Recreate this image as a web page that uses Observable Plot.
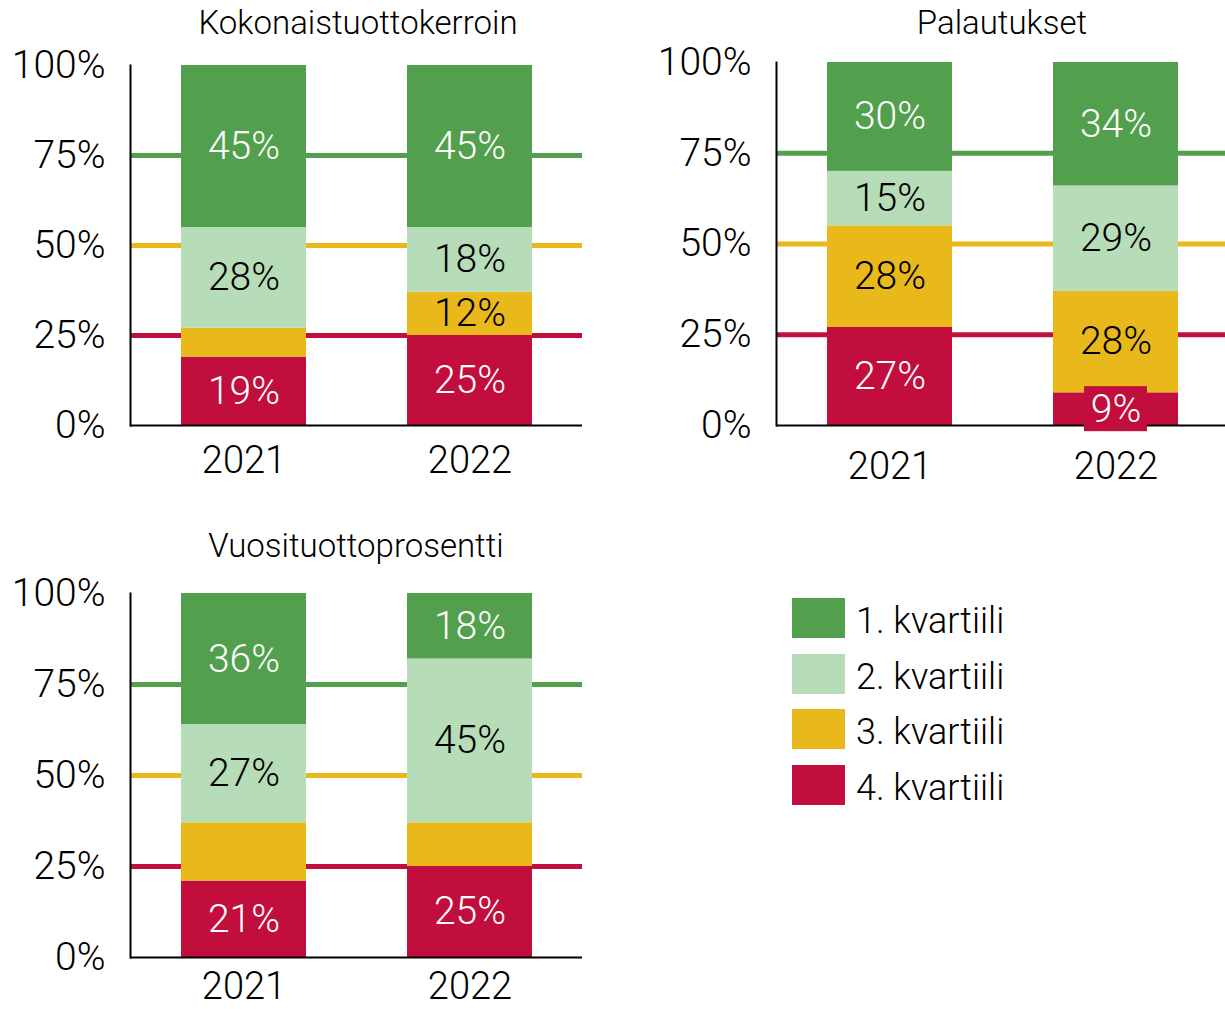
<!DOCTYPE html>
<html>
<head>
<meta charset="utf-8">
<script src="https://cdn.jsdelivr.net/npm/d3@7"></script>
<script src="https://cdn.jsdelivr.net/npm/@observablehq/plot@0.6"></script>
<style>
  html, body { margin: 0; padding: 0; background: #fff; overflow: hidden; }
  #root { position: relative; width: 1225px; height: 1009px; font-family: Roboto, sans-serif; font-weight: 300; color: #000; }
  .panel { position: absolute; }
  .title { position: absolute; font-size: 33px; line-height: 33px; white-space: nowrap; transform: translateX(-50%); }
  .legend { position: absolute; left: 792px; top: 598px; }
  .legend .item { display: flex; align-items: center; height: 40px; margin-bottom: 15.5px; }
  .legend .sw { width: 53px; height: 40px; margin-right: 11px; }
  .legend .lab { font-size: 36px; line-height: 36px; position: relative; top: 3px; }
</style>
</head>
<body>
<div id="root"></div>
<script>
// ---- data ----
const years = ["2021", "2022"];
const quartiles = ["1. kvartiili", "2. kvartiili", "3. kvartiili", "4. kvartiili"];
const quartileColors = ["#52a04e", "#b7dcb8", "#e9b81a", "#c20e3c"];
const labelColors = ["#ffffff", "#000000", "#000000", "#ffffff"];
const thresholds = [25, 50, 75];
const thresholdColors = ["#c20e3c", "#e9b81a", "#52a04e"];
const yTicks = [0, 25, 50, 75, 100];

// Kokonaistuottokerroin [2021, 2022]
const kokoQ1 = [45, 45];
const kokoQ2 = [28, 18];
const kokoQ3 = [8, 12];
const kokoQ4 = [19, 25];
const kokoShowQ3 = [false, true];

// Palautukset
const palaQ1 = [30, 34];
const palaQ2 = [15, 29];
const palaQ3 = [28, 28];
const palaQ4 = [27, 9];
const palaShowQ3 = [true, true];

// Vuosituottoprosentti
const vuosiQ1 = [36, 18];
const vuosiQ2 = [27, 45];
const vuosiQ3 = [16, 12];
const vuosiQ4 = [21, 25];
const vuosiShowQ3 = [false, false];

function buildRows(q1, q2, q3, q4, showQ3) {
  const series = [q1, q2, q3, q4];
  const rows = [];
  years.forEach((yr, j) => {
    let base = 0;
    // stack from 4th quartile (bottom) to 1st (top)
    for (let k = 3; k >= 0; k--) {
      const v = series[k][j];
      rows.push({
        year: yr, quartile: quartiles[k], value: v,
        lo: base, hi: base + v, mid: base + v / 2,
        show: k === 2 ? showQ3[j] : true,
        textColor: labelColors[k]
      });
      base += v;
    }
  });
  return rows;
}

const panels = [
  {name: "Kokonaistuottokerroin", rows: buildRows(kokoQ1, kokoQ2, kokoQ3, kokoQ4, kokoShowQ3),
   left: 0, top: 0, mt: 65, mb: 65, ph: 360, xPad: 21, yPad: 25, titleX: 358, titleY: 6},
  {name: "Palautukset", rows: buildRows(palaQ1, palaQ2, palaQ3, palaQ4, palaShowQ3),
   left: 646, top: 0, mt: 62, mb: 65, ph: 363, xPad: 27, yPad: 25, titleX: 1002, titleY: 6},
  {name: "Vuosituottoprosentti", rows: buildRows(vuosiQ1, vuosiQ2, vuosiQ3, vuosiQ4, vuosiShowQ3),
   left: 0, top: 520, mt: 73, mb: 52, ph: 364, xPad: 15, yPad: 25, titleX: 356, titleY: 529}
];

const root = document.getElementById("root");

for (const p of panels) {
  const rows = p.rows;
  const labelled = rows.filter(d => d.show);
  const overflow = labelled.filter(d => d.value < 10);
  const chart = Plot.plot({
    width: 612,
    height: p.mt + p.ph + p.mb,
    marginLeft: 130, marginRight: 30, marginTop: p.mt, marginBottom: p.mb,
    style: {fontFamily: "Roboto, sans-serif", fontWeight: 300, fontSize: "38px", overflow: "visible", background: "transparent"},
    x: {type: "band", domain: years, paddingInner: 0.447, paddingOuter: 0.2235},
    y: {domain: [0, 100]},
    color: {domain: quartiles, range: quartileColors},
    marks: [
      Plot.ruleY(thresholds, {y: d => d, stroke: (d, i) => thresholdColors[i], strokeWidth: 5}),
      Plot.barY(rows, {x: "year", y1: "lo", y2: "hi", fill: "quartile"}),
      Plot.frame({anchor: "left", stroke: "#000", strokeWidth: 2}),
      Plot.ruleY([0], {stroke: "#000", strokeWidth: 2}),
      Plot.barY(overflow, {x: "year", y1: d => d.mid - 6.2, y2: d => d.mid + 6.2, fill: "quartile", insetLeft: 31, insetRight: 31}),
      Plot.text(labelled, {x: "year", y: "mid", text: d => d.value + "%", fill: "textColor", fontSize: 39, fontWeight: 300}),
      Plot.axisX({tickSize: 0, tickPadding: p.xPad, fontSize: 38, label: null}),
      Plot.axisY({ticks: yTicks, tickFormat: d => d + "%", tickSize: 0, tickPadding: p.yPad, fontSize: 39, label: null})
    ]
  });
  chart.classList.add("panel");
  chart.style.left = p.left + "px";
  chart.style.top = p.top + "px";
  chart.style.position = "absolute";
  root.appendChild(chart);

  const t = document.createElement("div");
  t.className = "title";
  t.textContent = p.name;
  t.style.left = p.titleX + "px";
  t.style.top = p.titleY + "px";
  root.appendChild(t);
}

// legend
const lg = document.createElement("div");
lg.className = "legend";
quartiles.forEach((q, i) => {
  const item = document.createElement("div");
  item.className = "item";
  const sw = document.createElement("div");
  sw.className = "sw";
  sw.style.background = quartileColors[i];
  const lab = document.createElement("div");
  lab.className = "lab";
  lab.textContent = q;
  item.appendChild(sw);
  item.appendChild(lab);
  lg.appendChild(item);
});
root.appendChild(lg);
</script>
</body>
</html>
